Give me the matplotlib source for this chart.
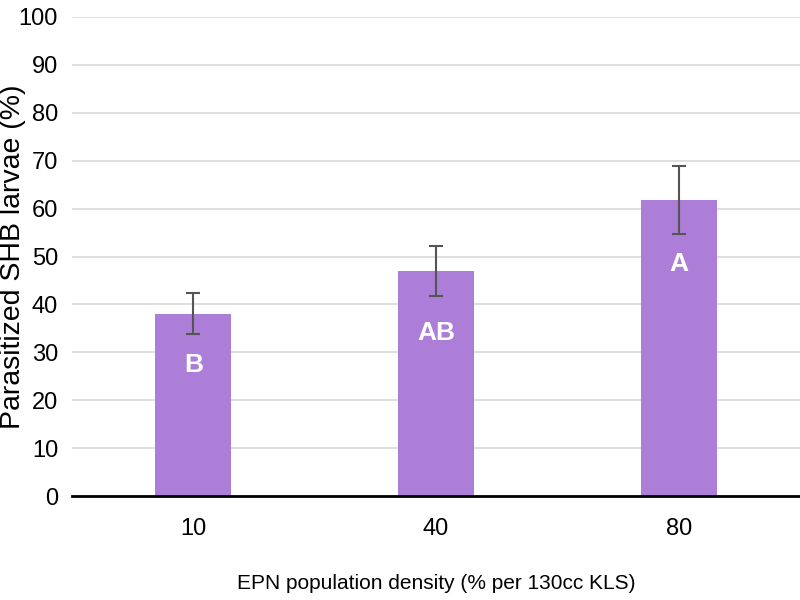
import matplotlib
matplotlib.use("Agg")
import matplotlib.pyplot as plt

categories = ["10", "40", "80"]
values = [38.0, 47.0, 61.8]
err_low = [33.8, 41.8, 54.7]
err_high = [42.4, 52.2, 68.9]
letters = ["B", "AB", "A"]
letter_y = [27.3, 34.0, 48.4]
yticks = list(range(0, 101, 10))

fam = ["Liberation Sans", "DejaVu Sans"]

fig = plt.figure(figsize=(8, 6), dpi=100)
ax = fig.add_axes([0.09, 0.1733, 0.91, 0.7984])

x = list(range(len(categories)))
yerr = [[v - lo for v, lo in zip(values, err_low)], [hi - v for v, hi in zip(values, err_high)]]
ax.bar(x, values, width=0.314, color="#AC7ED8", zorder=2)
ax.errorbar(x, values, yerr=yerr, fmt="none", ecolor="#555555", elinewidth=1.5,
            capsize=5, capthick=1.5, zorder=3)

for xi, ly, lab in zip(x, letter_y, letters):
    ax.text(xi, ly, lab, ha="center", va="center", color="white",
            fontsize=19, fontweight="bold", family=fam, zorder=4)

ax.set_xlim(-0.5, 2.5)
ax.set_ylim(0, 100)
ax.set_yticks(yticks)
ax.set_xticks(x)
ax.set_xticklabels(categories)
ax.yaxis.grid(True, color="#D9D9D9", linewidth=1.2, zorder=0)
ax.set_axisbelow(True)
for s in ["top", "right", "left"]:
    ax.spines[s].set_visible(False)
ax.spines["bottom"].set_linewidth(2)
ax.spines["bottom"].set_color("black")
ax.spines["bottom"].set_zorder(5)
ax.tick_params(axis="both", length=0, labelsize=17)
ax.tick_params(axis="y", pad=10)
ax.tick_params(axis="x", pad=16)
for t in ax.get_xticklabels() + ax.get_yticklabels():
    t.set_family(fam)

ax.set_xlabel("EPN population density (% per 130cc KLS)", fontsize=15, family=fam, labelpad=24)
fig.text(13 / 800, 1 - 257 / 600, "Parasitized SHB larvae (%)", rotation=90,
         ha="center", va="center", fontsize=20.5, family=fam)

fig.savefig("out.png", dpi=100)
